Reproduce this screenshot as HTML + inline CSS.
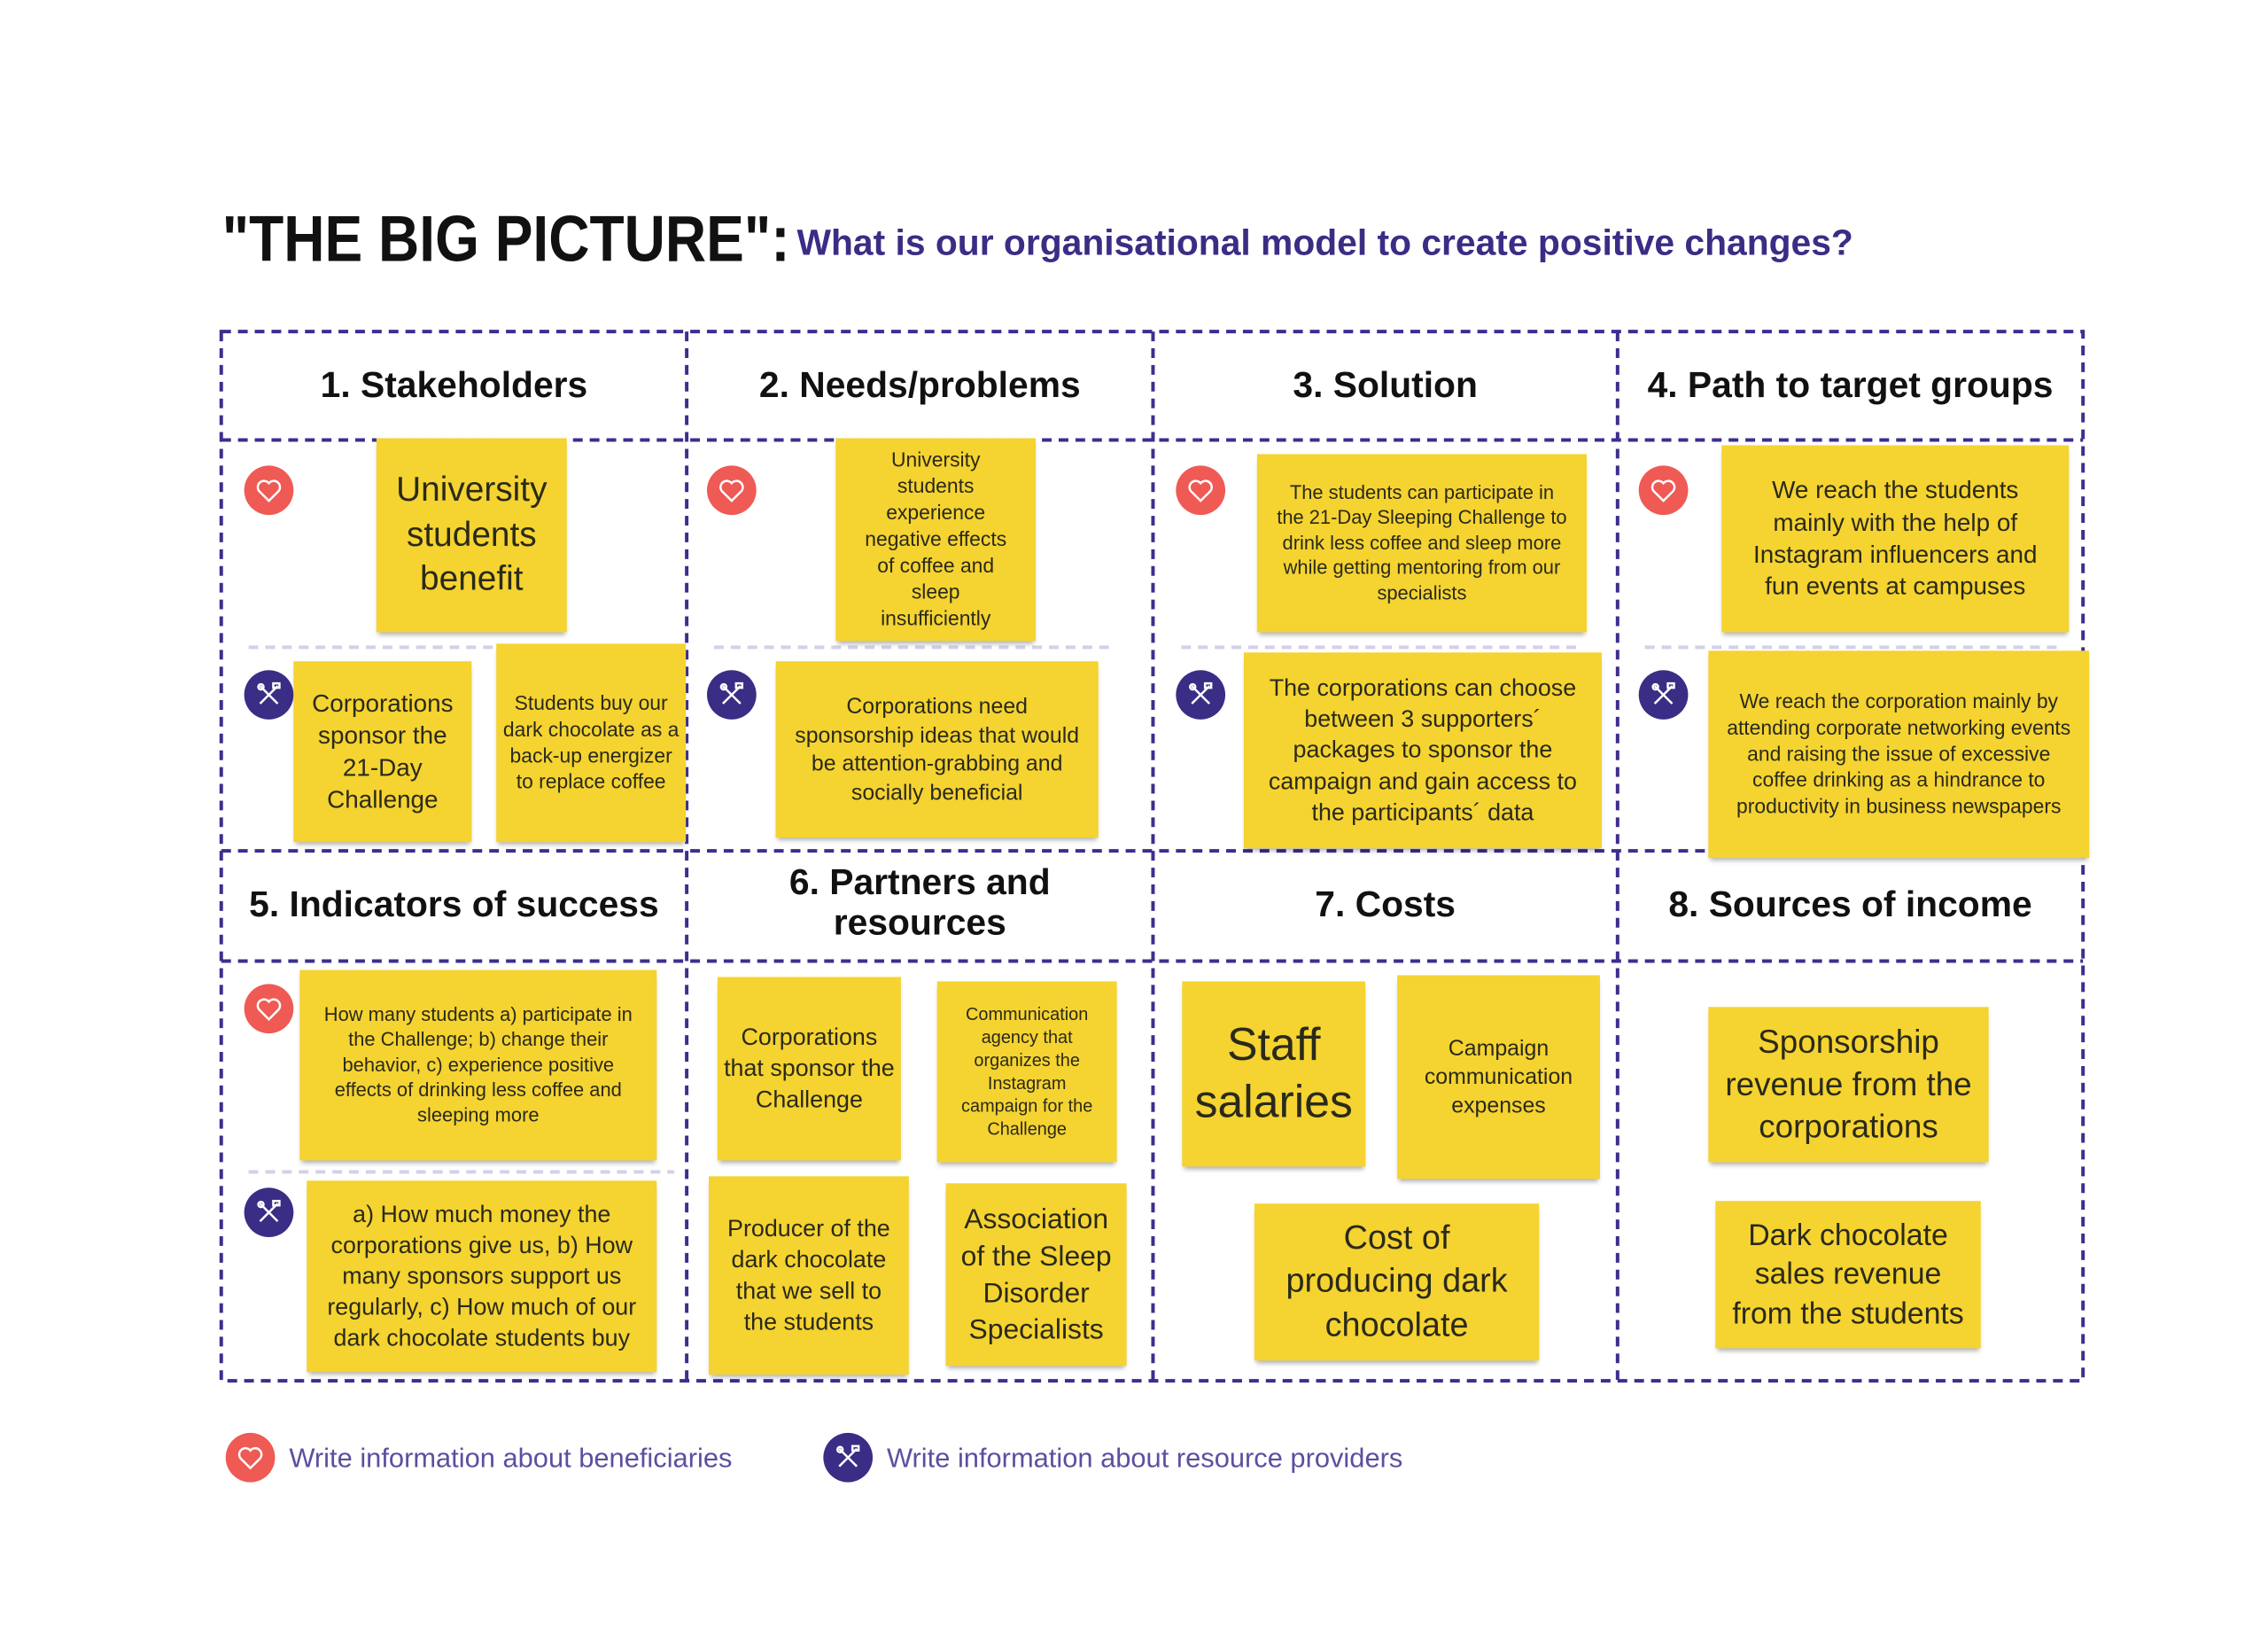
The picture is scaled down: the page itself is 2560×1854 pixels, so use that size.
<!DOCTYPE html>
<html><head><meta charset="utf-8">
<style>
*{margin:0;padding:0;box-sizing:border-box}
body{width:2560px;height:1854px;background:#fff;position:relative;overflow:hidden;font-family:"Liberation Sans",sans-serif}
#w{position:absolute;left:0;top:0;width:2560px;height:1854px;transform:scale(0.995);transform-origin:0 0}
.t{position:absolute;white-space:nowrap}
.h{position:absolute;font-weight:bold;font-size:41px;color:#111;text-align:center;line-height:1.12}
.s{position:absolute;background:#f5d331;display:flex;align-items:center;justify-content:center;text-align:center;color:#2a2a1a;line-height:1.3;box-shadow:0 5px 5px -2px rgba(0,0,0,.3);padding:6px}
.ic{position:absolute;width:56px;height:56px;border-radius:50%}
.hr{background:#ef5a55}
.tl{background:#3a2d85}
.ic svg{position:absolute;left:0;top:0}
</style></head><body><div id="w">
<div class="t" style="left:252px;top:228px;font-size:74px;font-weight:bold;color:#111;transform:scaleX(0.87);transform-origin:0 0">"THE BIG PICTURE":</div>
<div class="t" style="left:904px;top:252px;font-size:41px;font-weight:bold;color:#3a2d85">What is our organisational model to create positive changes?</div>

<svg width="2560" height="1854" style="position:absolute;left:0;top:0">
<g stroke="#3b2f8f" stroke-width="4" stroke-dasharray="11 8" fill="none">
<rect x="251" y="376" width="2112" height="1190"/>
<line x1="779" y1="376" x2="779" y2="1566"/>
<line x1="1308" y1="376" x2="1308" y2="1566"/>
<line x1="1835" y1="376" x2="1835" y2="1566"/>
<line x1="251" y1="499" x2="2363" y2="499"/>
<line x1="251" y1="965" x2="2363" y2="965"/>
<line x1="251" y1="1090" x2="2363" y2="1090"/>
</g>
<g stroke="#d3d0e8" stroke-width="4" stroke-dasharray="11 8">
<line x1="282" y1="734" x2="765" y2="734"/>
<line x1="810" y1="734" x2="1262" y2="734"/>
<line x1="1340" y1="734" x2="1790" y2="734"/>
<line x1="1866" y1="734" x2="2340" y2="734"/>
<line x1="282" y1="1329" x2="765" y2="1329"/>
</g>
</svg>

<div class="h" style="left:251px;top:414px;width:528px">1. Stakeholders</div>
<div class="h" style="left:779px;top:414px;width:529px">2. Needs/problems</div>
<div class="h" style="left:1308px;top:414px;width:527px">3. Solution</div>
<div class="h" style="left:1835px;top:414px;width:528px">4. Path to target groups</div>
<div class="h" style="left:251px;top:1003px;width:528px">5. Indicators of success</div>
<div class="h" style="left:779px;top:978px;width:529px">6. Partners and<br>resources</div>
<div class="h" style="left:1308px;top:1003px;width:527px">7. Costs</div>
<div class="h" style="left:1835px;top:1003px;width:528px">8. Sources of income</div>

<div class="ic hr" style="left:277px;top:528px"><svg width="56" height="56"><path d="M28 40 L17 29 A6.5 6.5 0 0 1 28 20 A6.5 6.5 0 0 1 39 29 Z" fill="none" stroke="#fff" stroke-width="2.5"/></svg></div>
<div class="ic hr" style="left:802px;top:528px"><svg width="56" height="56"><path d="M28 40 L17 29 A6.5 6.5 0 0 1 28 20 A6.5 6.5 0 0 1 39 29 Z" fill="none" stroke="#fff" stroke-width="2.5"/></svg></div>
<div class="ic hr" style="left:1334px;top:528px"><svg width="56" height="56"><path d="M28 40 L17 29 A6.5 6.5 0 0 1 28 20 A6.5 6.5 0 0 1 39 29 Z" fill="none" stroke="#fff" stroke-width="2.5"/></svg></div>
<div class="ic hr" style="left:1859px;top:528px"><svg width="56" height="56"><path d="M28 40 L17 29 A6.5 6.5 0 0 1 28 20 A6.5 6.5 0 0 1 39 29 Z" fill="none" stroke="#fff" stroke-width="2.5"/></svg></div>
<div class="ic hr" style="left:277px;top:1116px"><svg width="56" height="56"><path d="M28 40 L17 29 A6.5 6.5 0 0 1 28 20 A6.5 6.5 0 0 1 39 29 Z" fill="none" stroke="#fff" stroke-width="2.5"/></svg></div>
<div class="ic hr" style="left:256px;top:1625px"><svg width="56" height="56"><path d="M28 40 L17 29 A6.5 6.5 0 0 1 28 20 A6.5 6.5 0 0 1 39 29 Z" fill="none" stroke="#fff" stroke-width="2.5"/></svg></div>

<div class="ic tl" style="left:277px;top:760px"><svg width="56" height="56"><g stroke="#fff" stroke-width="2.5" fill="none"><line x1="18" y1="18" x2="38" y2="38"/><line x1="38" y1="18" x2="18" y2="38"/><circle cx="19" cy="19" r="3"/><rect x="33" y="15" width="7" height="5"/></g></svg></div>
<div class="ic tl" style="left:802px;top:760px"><svg width="56" height="56"><g stroke="#fff" stroke-width="2.5" fill="none"><line x1="18" y1="18" x2="38" y2="38"/><line x1="38" y1="18" x2="18" y2="38"/><circle cx="19" cy="19" r="3"/><rect x="33" y="15" width="7" height="5"/></g></svg></div>
<div class="ic tl" style="left:1334px;top:760px"><svg width="56" height="56"><g stroke="#fff" stroke-width="2.5" fill="none"><line x1="18" y1="18" x2="38" y2="38"/><line x1="38" y1="18" x2="18" y2="38"/><circle cx="19" cy="19" r="3"/><rect x="33" y="15" width="7" height="5"/></g></svg></div>
<div class="ic tl" style="left:1859px;top:760px"><svg width="56" height="56"><g stroke="#fff" stroke-width="2.5" fill="none"><line x1="18" y1="18" x2="38" y2="38"/><line x1="38" y1="18" x2="18" y2="38"/><circle cx="19" cy="19" r="3"/><rect x="33" y="15" width="7" height="5"/></g></svg></div>
<div class="ic tl" style="left:277px;top:1347px"><svg width="56" height="56"><g stroke="#fff" stroke-width="2.5" fill="none"><line x1="18" y1="18" x2="38" y2="38"/><line x1="38" y1="18" x2="18" y2="38"/><circle cx="19" cy="19" r="3"/><rect x="33" y="15" width="7" height="5"/></g></svg></div>
<div class="ic tl" style="left:934px;top:1625px"><svg width="56" height="56"><g stroke="#fff" stroke-width="2.5" fill="none"><line x1="18" y1="18" x2="38" y2="38"/><line x1="38" y1="18" x2="18" y2="38"/><circle cx="19" cy="19" r="3"/><rect x="33" y="15" width="7" height="5"/></g></svg></div>

<div class="s" style="left:427px;top:497px;width:216px;height:220px;font-size:39px">University students benefit</div>
<div class="s" style="left:333px;top:750px;width:202px;height:205px;font-size:28px">Corporations sponsor the 21-Day Challenge</div>
<div class="s" style="left:563px;top:730px;width:215px;height:225px;font-size:23px">Students buy our dark chocolate as a back-up energizer to replace coffee</div>
<div class="s" style="left:948px;top:497px;width:227px;height:230px;font-size:23px;padding:10px 22px">University students experience negative effects of coffee and sleep insufficiently</div>
<div class="s" style="left:880px;top:750px;width:366px;height:200px;font-size:25px;padding:10px 16px">Corporations need sponsorship ideas that would be attention-grabbing and socially beneficial</div>
<div class="s" style="left:1426px;top:515px;width:374px;height:202px;font-size:22px;padding:10px 22px">The students can participate in the 21-Day Sleeping Challenge to drink less coffee and sleep more while getting mentoring from our specialists</div>
<div class="s" style="left:1411px;top:740px;width:406px;height:222px;font-size:27px;padding:10px 18px">The corporations can choose between 3 supporters´ packages to sponsor the campaign and gain access to the participants´ data</div>
<div class="s" style="left:1953px;top:505px;width:394px;height:212px;font-size:28px;padding:10px 20px">We reach the students mainly with the help of Instagram influencers and fun events at campuses</div>
<div class="s" style="left:1938px;top:738px;width:432px;height:235px;font-size:23px;padding:10px 18px">We reach the corporation mainly by attending corporate networking events and raising the issue of excessive coffee drinking as a hindrance to productivity in business newspapers</div>
<div class="s" style="left:340px;top:1100px;width:405px;height:216px;font-size:22px;padding:10px 16px">How many students a) participate in the Challenge; b) change their behavior, c) experience positive effects of drinking less coffee and sleeping more</div>
<div class="s" style="left:348px;top:1339px;width:397px;height:217px;font-size:27px;padding:10px 16px">a) How much money the corporations give us, b) How many sponsors support us regularly, c) How much of our dark chocolate students buy</div>
<div class="s" style="left:814px;top:1108px;width:208px;height:208px;font-size:27px">Corporations that sponsor the Challenge</div>
<div class="s" style="left:1063px;top:1113px;width:204px;height:205px;font-size:20px;padding:10px 18px">Communication agency that organizes the Instagram campaign for the Challenge</div>
<div class="s" style="left:804px;top:1334px;width:227px;height:225px;font-size:27px;padding:10px 16px">Producer of the dark chocolate that we sell to the students</div>
<div class="s" style="left:1073px;top:1342px;width:205px;height:207px;font-size:32px">Association of the Sleep Disorder Specialists</div>
<div class="s" style="left:1341px;top:1113px;width:208px;height:210px;font-size:52px;line-height:1.25">Staff salaries</div>
<div class="s" style="left:1585px;top:1106px;width:230px;height:231px;font-size:25px;padding:10px 20px">Campaign communication expenses</div>
<div class="s" style="left:1423px;top:1365px;width:323px;height:178px;font-size:38px;padding:10px 24px">Cost of producing dark chocolate</div>
<div class="s" style="left:1938px;top:1142px;width:318px;height:176px;font-size:37px">Sponsorship revenue from the corporations</div>
<div class="s" style="left:1946px;top:1362px;width:301px;height:167px;font-size:34px">Dark chocolate sales revenue from the students</div>

<div class="t" style="left:328px;top:1636px;font-size:31px;color:#5a50a0">Write information about beneficiaries</div>
<div class="t" style="left:1006px;top:1636px;font-size:31px;color:#5a50a0">Write information about resource providers</div>
</div></body></html>
